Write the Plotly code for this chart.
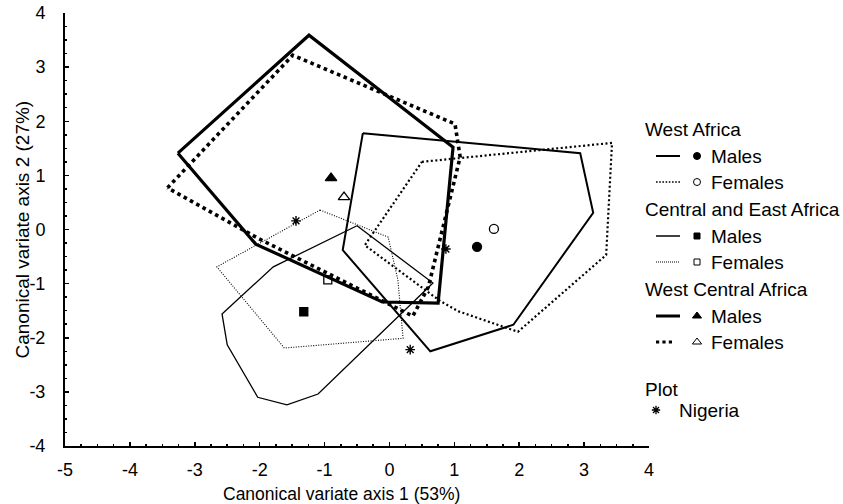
import plotly.graph_objects as go

# ---------------- data (canonical variate axis 1 / axis 2) ----------------
# convex hulls
wa_m_x = [-0.41, 2.94, 3.14, 1.91, 0.63, -0.72]
wa_m_y = [1.78, 1.41, 0.31, -1.76, -2.25, -0.38]
wa_f_x = [0.50, 3.43, 3.34, 1.98, 1.06, 0.78, -0.38]
wa_f_y = [1.25, 1.60, -0.47, -1.89, -1.51, -1.32, -0.29]
cea_m_x = [-0.50, 0.67, -1.10, -1.58, -2.03, -2.50, -2.58, -1.79]
cea_m_y = [0.07, -0.99, -3.04, -3.24, -3.10, -2.13, -1.56, -0.69]
cea_f_x = [-1.07, -0.02, 0.13, 0.21, -1.62, -2.66]
cea_f_y = [0.36, -0.14, -0.93, -2.01, -2.19, -0.69]
wca_m_x = [-3.26, -1.24, 0.98, 0.75, -0.11, -2.06]
wca_m_y = [1.41, 3.59, 1.52, -1.36, -1.34, -0.27]
wca_f_x = [-3.42, -1.49, 1.01, 1.09, 0.60, 0.36, -2.03]
wca_f_y = [0.77, 3.22, 1.95, 1.34, -1.06, -1.60, -0.16]

# group centroids
cent_wa_m = (1.35, -0.32)
cent_wa_f = (1.61, 0.01)
cent_cea_m = (-1.32, -1.52)
cent_cea_f = (-0.95, -0.93)
cent_wca_m = (-0.90, 0.95)
cent_wca_f = (-0.70, 0.60)

# Nigeria plot
nig_x = [-1.44, 0.87, 0.32]
nig_y = [0.16, -0.36, -2.22]

x_ticks = [-5, -4, -3, -2, -1, 0, 1, 2, 3, 4]
x_tick_text = ["-5", "-4", "-3", "-2", "-1", "0", "1", "2", "3", "4"]
y_ticks = [-4, -3, -2, -1, 0, 1, 2, 3, 4]
y_tick_text = ["-4", "-3", "-2", "-1", "0", "1", "2", "3", "4"]

x_title = "Canonical variate axis 1 (53%)"
y_title = "Canonical variate axis 2 (27%)"

FONT = "Liberation Sans, Arial, sans-serif"

# styles per group: (line width, dash)
styles = {
    "wa_m": (2.0, "solid"),
    "wa_f": (2.2, "2px,2.5px"),
    "cea_m": (1.3, "solid"),
    "cea_f": (1.1, "1px,1.5px"),
    "wca_m": (3.2, "solid"),
    "wca_f": (3.6, "3.6px,3.6px"),
}

fig = go.Figure()


def closed(a):
    return list(a) + [a[0]]


hulls = [
    ("wa_m", wa_m_x, wa_m_y),
    ("wa_f", wa_f_x, wa_f_y),
    ("cea_m", cea_m_x, cea_m_y),
    ("cea_f", cea_f_x, cea_f_y),
    ("wca_m", wca_m_x, wca_m_y),
    ("wca_f", wca_f_x, wca_f_y),
]
for key, hx, hy in hulls:
    w, d = styles[key]
    fig.add_trace(go.Scatter(
        x=closed(hx), y=closed(hy), mode="lines",
        line=dict(color="black", width=w, dash=d),
        showlegend=False, hoverinfo="skip"))

centroids = [
    (cent_wa_m, "circle", 9),
    (cent_wa_f, "circle-open", 9),
    (cent_cea_m, "square", 8),
    (cent_cea_f, "square-open", 8),
    (cent_wca_m, "triangle-up", 10),
    (cent_wca_f, "triangle-up-open", 10),
]
for (cx, cy), sym, sz in centroids:
    fig.add_trace(go.Scatter(
        x=[cx], y=[cy], mode="markers",
        marker=dict(symbol=sym, size=sz, color="black",
                    line=dict(color="black", width=1.3)),
        showlegend=False))

fig.add_trace(go.Scatter(
    x=nig_x, y=nig_y, mode="markers",
    marker=dict(symbol="asterisk-open", size=8, color="black",
                line=dict(color="black", width=1.4)),
    showlegend=False))

# ---------------- custom legend (separate invisible axes, pixel units) ----------------
leg_titles = ["West Africa", "Central and East Africa", "West Central Africa"]
leg_title_y = [129, 209, 289]
leg_item_y = [[156, 182], [236, 262], [316, 342]]
leg_keys = [["wa_m", "wa_f"], ["cea_m", "cea_f"], ["wca_m", "wca_f"]]
leg_syms = [["circle", "circle-open"], ["square", "square-open"],
            ["triangle-up", "triangle-up-open"]]
leg_sizes = [[7, 7], [6, 6], [8, 8]]
leg_labels = ["Males", "Females"]
leg_line_ends = {"wa_m": 680, "wa_f": 680, "cea_m": 680, "cea_f": 680,
                 "wca_m": 680, "wca_f": 674}
leg_dash = {"wa_m": (2.0, "solid"), "wa_f": (1.6, "1.6px,1.6px"),
            "cea_m": (1.3, "solid"), "cea_f": (1.0, "1px,1px"),
            "wca_m": (3.0, "solid"), "wca_f": (3.2, "3.2px,3.2px")}

annotations = []
for g, title in enumerate(leg_titles):
    annotations.append(dict(x=643, y=leg_title_y[g], xref="x2", yref="y2",
                            text=title, showarrow=False, xanchor="left",
                            yanchor="middle",
                            font=dict(family=FONT, size=19, color="black")))
    for i in range(2):
        k = leg_keys[g][i]
        yy = leg_item_y[g][i]
        w, d = leg_dash[k]
        fig.add_trace(go.Scatter(
            x=[656, leg_line_ends[k]], y=[yy, yy], mode="lines",
            line=dict(color="black", width=w, dash=d),
            xaxis="x2", yaxis="y2", showlegend=False, hoverinfo="skip",
            cliponaxis=False))
        fig.add_trace(go.Scatter(
            x=[697], y=[yy], mode="markers",
            marker=dict(symbol=leg_syms[g][i], size=leg_sizes[g][i],
                        color="black", line=dict(color="black", width=1)),
            xaxis="x2", yaxis="y2", showlegend=False, hoverinfo="skip",
            cliponaxis=False))
        annotations.append(dict(x=709, y=yy, xref="x2", yref="y2",
                                text=leg_labels[i], showarrow=False,
                                xanchor="left", yanchor="middle",
                                font=dict(family=FONT, size=19, color="black")))

annotations.append(dict(x=643, y=389, xref="x2", yref="y2", text="Plot",
                        showarrow=False, xanchor="left", yanchor="middle",
                        font=dict(family=FONT, size=19, color="black")))
fig.add_trace(go.Scatter(
    x=[656], y=[410], mode="markers",
    marker=dict(symbol="asterisk-open", size=7, color="black",
                line=dict(color="black", width=1.3)),
    xaxis="x2", yaxis="y2", showlegend=False, hoverinfo="skip",
    cliponaxis=False))
annotations.append(dict(x=677, y=410, xref="x2", yref="y2", text="Nigeria",
                        showarrow=False, xanchor="left", yanchor="middle",
                        font=dict(family=FONT, size=19, color="black")))

# axis titles
annotations.append(dict(x=(341 - 65) / 778, y=0, xref="paper", yref="paper",
                        yshift=-48, text=x_title, showarrow=False,
                        xanchor="center", yanchor="middle",
                        font=dict(family=FONT, size=17.5, color="black")))
annotations.append(dict(x=0, y=0.5, xref="paper", yref="paper",
                        xshift=-43, text=y_title, showarrow=False,
                        textangle=-90, xanchor="center", yanchor="middle",
                        font=dict(family=FONT, size=19, color="black")))

fig.update_layout(
    template="none",
    width=843, height=504,
    margin=dict(l=65, r=0, t=13, b=58, autoexpand=False),
    paper_bgcolor="white",
    plot_bgcolor="rgba(0,0,0,0)",
    showlegend=False,
    font=dict(family=FONT, color="black"),
    annotations=annotations,
    xaxis=dict(domain=[0, 584 / 778], range=[-5, 4], tickvals=x_ticks,
               ticktext=x_tick_text, automargin=False,
               showgrid=False, zeroline=False, showline=True,
               linecolor="black", linewidth=2, ticks="inside", ticklen=4,
               tickwidth=1.5, tickcolor="black", ticklabelstandoff=6,
               tickfont=dict(family=FONT, size=18, color="black"),
               minor=dict(ticks="inside", ticklen=2, dtick=0.25,
                          tickcolor="black", tickwidth=1.5, showgrid=False),
               fixedrange=True),
    yaxis=dict(domain=[0, 1], range=[-4, 4], tickvals=y_ticks,
               ticktext=y_tick_text, automargin=False,
               showgrid=False, zeroline=False, showline=True,
               linecolor="black", linewidth=2, ticks="inside", ticklen=4,
               tickwidth=1.5, tickcolor="black", ticklabelstandoff=14,
               tickfont=dict(family=FONT, size=18, color="black"),
               minor=dict(ticks="inside", ticklen=2, dtick=0.25,
                          tickcolor="black", tickwidth=1.5, showgrid=False),
               fixedrange=True),
    xaxis2=dict(domain=[0.74, 1], range=[65 + 0.74 * 778, 843], anchor="y2",
                visible=False, fixedrange=True, automargin=False),
    yaxis2=dict(domain=[0, 1], range=[446, 13], anchor="x2",
                visible=False, fixedrange=True, automargin=False),
)

fig.write_html(
    "out.html",
    config={"staticPlot": True},
    post_script="document.body.style.margin='0';"
                "document.body.style.overflow='hidden';",
)
